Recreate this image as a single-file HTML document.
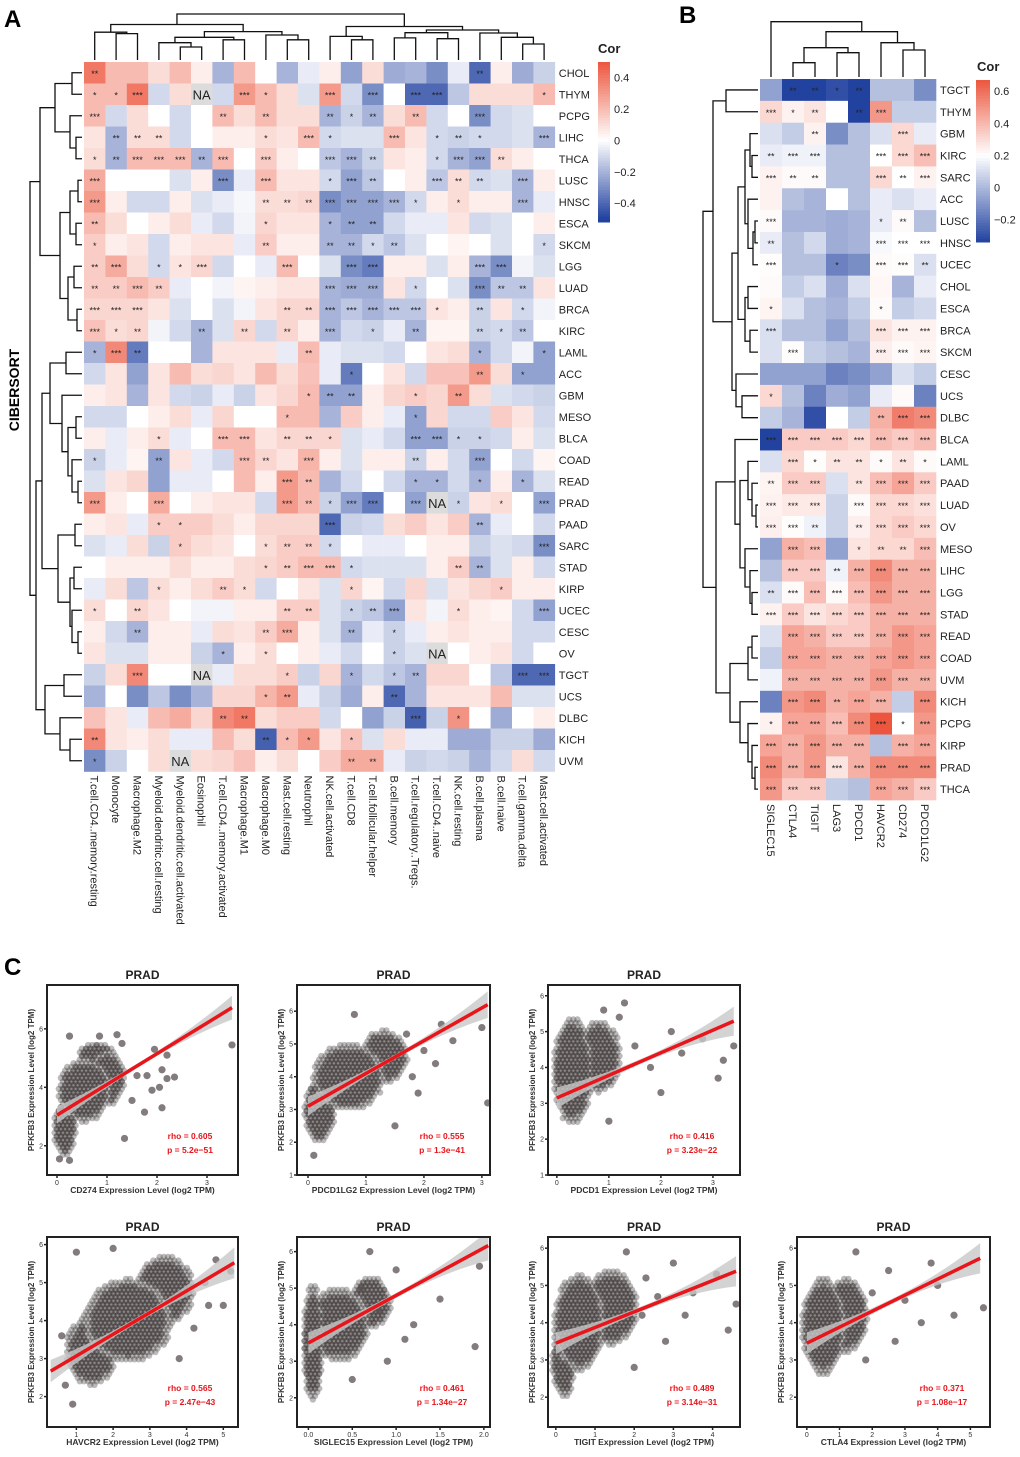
<!DOCTYPE html>
<html><head><meta charset="utf-8"><style>
html,body{margin:0;padding:0;background:#fff}
svg text{font-family:"Liberation Sans",Arial,sans-serif}
</style></head><body>
<svg id="fig" width="1020" height="1452" viewBox="0 0 1020 1452" xmlns="http://www.w3.org/2000/svg">
<rect width="1020" height="1452" fill="#fff"/>
<text x="4" y="27" font-size="24" font-weight="bold">A</text>
<text x="679" y="23" font-size="24" font-weight="bold">B</text>
<text x="4" y="975" font-size="24" font-weight="bold">C</text>
<text transform="translate(19,390) rotate(-90)" text-anchor="middle" font-size="14" font-weight="bold">CIBERSORT</text>
<g id="gA"></g>
<g id="gB"></g>
<g id="gC"></g>
</svg>
<script>
const rowsA=["CHOL","THYM","PCPG","LIHC","THCA","LUSC","HNSC","ESCA","SKCM","LGG","LUAD","BRCA","KIRC","LAML","ACC","GBM","MESO","BLCA","COAD","READ","PRAD","PAAD","SARC","STAD","KIRP","UCEC","CESC","OV","TGCT","UCS","DLBC","KICH","UVM"];
const colsA=["T.cell.CD4..memory.resting","Monocyte","Macrophage.M2","Myeloid.dendritic.cell.resting","Myeloid.dendritic.cell.activated","Eosinophil","T.cell.CD4..memory.activated","Macrophage.M1","Macrophage.M0","Mast.cell.resting","Neutrophil","NK.cell.activated","T.cell.CD8","T.cell.follicular.helper","B.cell.memory","T.cell.regulatory..Tregs.","T.cell.CD4..naive","NK.cell.resting","B.cell.plasma","B.cell.naive","T.cell.gamma.delta","Mast.cell.activated"];
const valsA=[
[.4,.2,.2,.1,.2,.05,-.2,.2,0,-.2,-.05,.05,-.25,.1,-.22,-.2,-.3,-.05,-.4,.05,-.22,-.12],
[.2,.2,.4,-.1,.1,null,-.1,.3,.2,.1,-.08,.3,-.1,-.3,0,-.4,-.4,-.15,.1,.1,.1,.2],
[.2,-.1,.1,0,-.1,0,.2,.1,.2,.1,.1,-.2,-.12,-.2,.1,.2,-.1,0,-.3,-.1,-.08,0],
[.08,-.2,.1,.1,-.1,0,.05,.05,.1,.08,.2,-.1,-.08,-.08,.2,.08,-.1,-.12,-.1,-.1,-.08,-.2],
[.1,-.2,.2,.2,.2,-.2,.2,0,.15,.05,0,-.15,-.2,-.12,.08,.05,-.1,-.2,-.25,.1,.05,0],
[.25,0,0,0,-.08,.05,-.3,-.05,.2,.08,.08,-.1,-.25,-.15,0,.05,-.15,.1,-.1,-.08,-.2,.05],
[.3,.05,-.1,-.1,.05,-.08,-.05,-.02,.1,.1,.12,-.3,-.25,-.25,-.2,-.1,.05,.1,.05,.05,-.2,-.05],
[.2,.1,0,.05,.1,-.05,-.1,-.03,.12,.08,.08,-.2,-.25,-.25,-.1,-.05,-.05,.08,-.1,-.08,0,.05],
[.15,.05,.08,-.1,.05,.08,.08,-.05,.15,.05,.05,-.2,-.2,-.1,-.15,-.08,0,.03,0,-.08,0,-.1],
[.15,.25,.1,-.1,.08,.12,-.1,0,-.05,.2,0,-.08,-.3,-.35,.05,.05,-.08,.05,-.2,-.3,-.03,-.08],
[.15,.15,.2,.15,-.05,0,-.03,.03,.05,.08,.08,-.2,-.22,-.22,.08,-.1,0,-.08,-.3,-.15,-.15,.08],
[.12,.12,.12,.08,-.08,0,-.08,-.03,.08,.12,.12,-.2,-.15,-.2,-.15,-.15,.08,.05,-.12,.08,-.1,-.03],
[.18,.1,.12,-.03,-.1,-.2,-.08,.12,-.1,.12,.05,-.2,-.1,-.12,-.05,-.2,.03,.03,-.12,-.1,-.15,0],
[-.2,.35,-.35,0,0,-.2,.08,.08,.08,-.05,.2,-.05,-.08,-.08,-.1,0,.08,.1,-.2,-.1,-.03,-.25],
[-.1,.08,-.25,.08,.2,.1,.12,.08,.2,.1,.18,-.05,-.35,0,.08,-.1,.18,.18,.3,.1,-.25,-.25],
[.05,.08,-.2,.08,-.1,-.12,-.05,-.12,.08,.12,.2,-.25,-.25,.05,.12,.15,.12,.3,.1,-.08,-.1,-.12],
[-.1,-.1,0,.05,.1,-.05,.12,0,0,.2,.2,-.2,.15,.05,-.05,-.25,.12,-.1,-.1,.15,.08,-.1],
[.05,-.05,.05,.1,-.05,0,.2,.2,.08,.12,.12,.12,-.08,-.05,-.1,-.25,-.25,-.12,-.12,-.1,.05,-.08],
[-.12,-.05,.03,-.25,.08,-.05,-.1,.2,.12,.08,.22,.05,-.08,.05,.05,-.12,.05,-.1,-.25,0,-.1,.03],
[-.08,.08,.12,-.25,-.05,-.05,0,.2,.05,.3,.2,-.2,-.1,0,-.1,-.2,-.2,-.1,-.2,.05,-.2,-.08],
[.3,.05,0,.25,0,.05,.08,.08,-.1,.3,.2,-.12,-.25,-.35,0,-.25,null,-.12,.08,.1,0,-.25],
[.05,.08,-.05,.15,.15,.15,.1,.05,.12,.12,.12,-.4,-.12,-.1,.1,.15,.08,.15,-.2,-.05,0,-.1],
[-.08,-.05,.1,-.12,.15,.1,.08,0,.1,.15,.15,-.1,0,-.05,-.05,0,.05,.05,-.12,-.08,-.1,-.3],
[0,.05,.05,.05,.1,.05,.05,.1,.12,.15,.2,.2,-.1,-.08,-.08,-.08,.05,.15,-.2,-.08,.05,-.1],
[-.05,.1,-.15,.1,.05,.1,.15,.1,-.1,0,.08,-.08,.12,.03,-.1,.12,-.08,.08,.12,.15,.05,.05],
[.1,0,.12,.08,0,-.03,-.03,.05,.05,.15,.15,-.08,-.12,-.15,-.25,.08,-.03,.1,.05,.03,-.1,-.25],
[.05,-.1,-.2,.05,.05,-.05,.1,.08,.15,.25,.05,-.08,-.2,-.05,-.12,-.05,.05,.08,.05,.05,-.1,-.1],
[.08,-.08,-.08,.05,.05,-.12,-.2,.05,.1,0,.05,-.05,-.1,0,-.12,-.08,null,0,.05,.08,-.1,0],
[-.12,.1,.35,0,0,null,-.05,.1,.1,.15,-.12,.12,-.2,-.1,-.15,-.2,.12,.12,0,-.15,-.4,-.4],
[-.2,0,-.3,-.15,-.3,-.2,.12,.12,.22,.3,-.05,-.12,-.22,.05,-.4,-.2,.08,.08,.08,.2,-.08,-.08],
[.18,.08,-.05,.2,.25,.12,.35,.4,.1,.15,.15,-.1,0,-.25,-.12,-.42,-.12,.32,0,-.22,0,.05],
[.35,.08,.05,.1,-.05,-.05,.2,.1,-.42,.2,.3,.08,.18,-.08,.1,-.05,-.05,-.22,-.22,-.12,-.12,-.22],
[-.3,-.12,0,.1,null,.1,.12,.18,.05,.1,0,.15,.25,.25,-.05,-.12,-.1,-.12,-.2,-.1,.1,-.1]];
const starsA=[
[2,0,0,0,0,0,0,0,0,0,0,0,0,0,0,0,0,0,2,0,0,0],
[1,1,3,0,0,0,0,3,1,0,0,3,0,3,0,3,3,0,0,0,0,1],
[3,0,0,0,0,0,2,0,2,0,0,2,1,2,0,2,0,0,3,0,0,0],
[0,2,2,2,0,0,0,0,1,0,3,1,0,0,3,0,1,2,1,0,0,3],
[1,2,3,3,3,2,3,0,3,0,0,3,3,2,0,0,1,3,3,2,0,0],
[3,0,0,0,0,0,3,0,3,0,0,1,3,2,0,0,3,2,2,0,3,0],
[3,0,0,0,0,0,0,0,2,2,2,3,3,3,3,1,0,1,0,0,3,0],
[2,0,0,0,0,0,0,0,1,0,0,1,2,2,0,0,0,0,0,0,0,0],
[1,0,0,0,0,0,0,0,2,0,0,2,2,1,2,0,0,0,0,0,0,1],
[2,3,0,1,1,3,0,0,0,3,0,0,3,3,0,0,0,0,3,3,0,0],
[2,2,3,2,0,0,0,0,0,0,0,3,3,3,0,1,0,0,3,2,2,0],
[3,3,3,0,0,0,0,0,0,2,2,3,3,3,3,3,1,0,2,0,1,0],
[3,1,2,0,0,2,0,2,0,2,0,3,0,1,0,2,0,0,2,1,2,0],
[1,3,2,0,0,0,0,0,0,0,2,0,0,0,0,0,0,0,1,0,0,1],
[0,0,0,0,0,0,0,0,0,0,0,0,1,0,0,0,0,0,2,0,1,0],
[0,0,0,0,0,0,0,0,0,0,1,2,2,0,0,1,0,2,0,0,0,0],
[0,0,0,0,0,0,0,0,0,1,0,0,0,0,0,1,0,0,0,0,0,0],
[0,0,0,1,0,0,3,3,0,2,2,1,0,0,0,3,3,1,1,0,0,0],
[1,0,0,2,0,0,0,3,2,0,3,0,0,0,0,2,0,0,3,0,0,0],
[0,0,0,0,0,0,0,0,0,3,2,0,0,0,0,1,1,0,1,0,1,0],
[3,0,0,3,0,0,0,0,0,3,2,1,3,3,0,3,0,1,0,1,0,3],
[0,0,0,1,1,0,0,0,0,0,0,3,0,0,0,0,0,0,2,0,0,0],
[0,0,0,0,1,0,0,0,1,2,2,1,0,0,0,0,0,0,0,0,0,3],
[0,0,0,0,0,0,0,0,1,2,3,3,1,0,0,0,0,2,2,0,0,0],
[0,0,0,1,0,0,2,1,0,0,0,0,1,0,0,0,0,0,0,1,0,0],
[1,0,2,0,0,0,0,0,0,2,2,0,1,2,3,0,0,1,0,0,0,3],
[0,0,2,0,0,0,0,0,2,3,0,0,2,0,1,0,0,0,0,0,0,0],
[0,0,0,0,0,0,1,0,1,0,0,0,0,0,1,0,0,0,0,0,0,0],
[0,0,3,0,0,0,0,0,0,1,0,0,1,0,1,2,0,0,0,0,3,3],
[0,0,0,0,0,0,0,0,1,2,0,0,0,0,2,0,0,0,0,0,0,0],
[0,0,0,0,0,0,2,2,0,0,0,0,0,0,0,3,0,1,0,0,0,0],
[2,0,0,0,0,0,0,0,2,1,1,0,1,0,0,0,0,0,0,0,0,0],
[1,0,0,0,0,0,0,0,0,0,0,0,2,2,0,0,0,0,0,0,0,0]];
const legendTicksA=[0.4,0.2,0,-0.2,-0.4];

const rowsB=["TGCT","THYM","GBM","KIRC","SARC","ACC","LUSC","HNSC","UCEC","CHOL","ESCA","BRCA","SKCM","CESC","UCS","DLBC","BLCA","LAML","PAAD","LUAD","OV","MESO","LIHC","LGG","STAD","READ","COAD","UVM","KICH","PCPG","KIRP","PRAD","THCA"];
const colsB=["SIGLEC15","CTLA4","TIGIT","LAG3","PDCD1","HAVCR2","CD274","PDCD1LG2"];
const valsB=[
[-.15,-.3,-.3,-.28,-.3,-.1,-.1,-.18],[.15,.05,.1,0,-.3,.4,-.08,-.08],[-.05,-.08,.05,-.18,-.1,-.05,.15,-.03],
[-.03,-.02,-.02,-.1,-.1,0,.15,.25],[.05,.02,.02,-.1,-.1,.15,0,.05],[.05,-.1,-.12,0,-.1,-.03,-.05,-.03],
[.02,-.12,-.12,-.13,-.12,-.03,.02,-.1],[-.03,-.1,-.06,-.13,-.12,-.01,0,0],[.01,-.1,-.1,-.2,-.18,.02,.01,-.05],
[.02,-.08,-.05,-.13,-.05,.03,-.12,-.03],[.04,-.05,-.1,-.12,-.08,.02,-.08,-.06],[-.05,-.1,-.1,-.15,-.1,.1,.05,.05],
[-.05,.01,-.08,-.1,-.12,.06,.02,.04],[-.15,-.15,-.15,-.2,-.18,-.15,-.05,-.08],[.15,-.1,-.2,-.13,-.15,-.03,.02,-.2],
[-.08,-.12,-.28,0,-.08,.3,.5,.45],[-.3,.2,.2,.2,.15,.25,.2,.25],[-.05,.15,.01,.1,.1,.02,.1,.02],
[.04,.2,.2,-.05,.1,.25,.35,.2],[.05,.08,.08,-.07,.02,.15,.15,.12],[.06,.01,-.02,-.07,.06,.15,.2,.15],
[-.15,.3,.25,-.15,.1,.15,.15,.25],[-.1,.2,.2,-.02,.3,.45,.3,.3],[-.05,.02,.25,.02,.25,.4,.3,.3],
[.05,.2,.1,.15,.2,.3,.3,.3],[-.05,.35,.3,.2,.2,.3,.4,.35],[-.08,.35,.35,.3,.3,.35,.4,.35],
[-.02,.3,.3,.3,.3,.4,.3,.3],[-.2,.4,.45,.3,.35,.3,-.08,.45],[.05,.35,.35,.25,.45,.65,0,.4],
[.35,.3,.4,.3,.3,-.1,.3,.35],[.45,.3,.4,.1,.3,.45,.45,.45],[.4,.2,.2,-.08,-.1,.35,.3,.2]];
const starsB=[
[0,2,2,1,2,0,0,0],[3,1,2,0,2,3,0,0],[0,0,2,0,0,0,3,0],[2,3,3,0,0,3,3,3],[3,2,2,0,0,3,2,3],[0,0,0,0,0,0,0,0],
[3,0,0,0,0,1,2,0],[2,0,0,0,0,3,3,3],[3,0,0,1,0,3,3,2],[0,0,0,0,0,0,0,0],[1,0,0,0,0,1,0,0],[3,0,0,0,0,3,3,3],
[0,3,0,0,0,3,3,3],[0,0,0,0,0,0,0,0],[1,0,0,0,0,0,0,0],[0,0,0,0,0,2,3,3],[3,3,3,3,3,3,3,3],[0,3,1,2,2,1,2,1],
[2,3,3,0,2,3,3,3],[3,3,3,0,3,3,3,3],[3,3,2,0,2,3,3,3],[0,3,3,0,1,2,2,3],[0,3,3,2,3,3,3,3],[2,3,3,3,3,3,3,3],
[3,3,3,3,3,3,3,3],[0,3,3,3,3,3,3,3],[0,3,3,3,3,3,3,3],[0,3,3,3,3,3,3,3],[0,3,3,2,3,3,0,3],[1,3,3,3,3,3,1,3],
[3,3,3,3,3,0,3,3],[3,3,3,3,3,3,3,3],[3,3,3,0,0,3,3,3]];
const legendTicksB=[0.6,0.4,0.2,0,-0.2];

// scatter data
const plotTitles=["PRAD","PRAD","PRAD","PRAD","PRAD","PRAD","PRAD"];
const plotGenes=["CD274","PDCD1LG2","PDCD1","HAVCR2","SIGLEC15","TIGIT","CTLA4"];
const plotRho=["0.605","0.555","0.416","0.565","0.461","0.489","0.371"];
const plotP=["5.2e\u221251","1.3e\u221241","3.23e\u221222","2.47e\u221243","1.34e\u221227","3.14e\u221231","1.08e\u221217"];
const plotXTicks=[[0,1,2,3],[0,1,2,3],[0,1,2,3],[1,2,3,4,5],[0,0.5,1,1.5,2],[0,1,2,3,4],[0,1,2,3,4,5]];
const plotXTickLabels=[["0","1","2","3"],["0","1","2","3"],["0","1","2","3"],["1","2","3","4","5"],["0.0","0.5","1.0","1.5","2.0"],["0","1","2","3","4"],["0","1","2","3","4","5"]];
const plotYTicks=[[2,4,6],[1,2,3,4,5,6],[1,2,3,4,5,6],[2,3,4,5,6],[2,3,4,5,6],[2,3,4,5,6],[2,3,4,5,6]];
const fitIntercept=[3.05,3.1,3.15,2.5,3.5,3.45,3.45];
const fitSlope=[1.05,1.0,0.63,0.57,1.3,0.42,0.43];
const fitRange=[[0,3.5],[0,3.1],[0,3.4],[0.3,5.3],[0,2.05],[0,4.6],[0,5.3]];
const clouds=[
[[0.55,3.9,0.45,0.95],[0.15,2.6,0.15,0.8],[1.0,4.3,0.3,0.8],[0.8,5.0,0.3,0.4]],
[[0.7,4.0,0.55,0.9],[0.2,3.0,0.2,0.9],[1.3,4.6,0.35,0.7]],
[[0.3,3.9,0.3,1.4],[0.8,4.3,0.35,0.9]],
[[2.4,4.0,1.1,1.0],[1.4,3.2,0.6,0.8],[3.4,4.8,0.7,0.8]],
[[0.05,3.5,0.07,1.5],[0.35,4.0,0.3,0.9],[0.7,4.6,0.2,0.6]],
[[0.6,4.0,0.55,1.2],[1.4,4.4,0.6,0.9],[0.2,3.0,0.2,0.9]],
[[0.5,3.9,0.55,1.2],[1.2,4.2,0.55,0.9]]];
const outliers=[
[[0.25,5.75],[1.2,5.8],[0.85,5.75],[1.3,5.5],[1.5,3.55],[1.75,3.15],[2.1,3.3],[2.1,4.6],[2.2,4.3],[2.35,4.35],[1.95,5.3],[2.2,5.1],[3.5,5.45],[1.9,3.9],[1.35,2.25],[0.25,1.5],[0.05,1.55],[1.8,4.4],[2.05,4.0],[1.6,4.4]],
[[1.7,5.3],[2.0,4.8],[2.2,4.4],[2.5,5.1],[3.0,5.5],[3.1,3.2],[1.9,3.5],[0.1,1.6],[1.5,2.5],[2.3,5.6],[0.8,5.9],[1.8,4.0]],
[[1.2,5.4],[1.5,4.6],[1.8,4.0],[2.0,3.3],[2.4,4.4],[2.8,4.8],[3.1,3.7],[3.4,4.6],[1.0,2.5],[1.3,5.8],[2.2,5.0],[0.9,5.6],[3.2,4.2]],
[[0.7,2.3],[0.9,1.8],[4.5,5.0],[4.8,5.6],[5.2,5.3],[4.2,3.8],[1.0,5.8],[2.0,5.9],[3.8,3.0],[4.6,4.4],[0.6,3.6],[5.0,4.4]],
[[0.6,5.0],[0.8,4.4],[1.0,5.5],[1.2,4.0],[0.9,3.0],[1.5,4.7],[1.9,3.4],[1.95,5.6],[0.7,6.0],[0.5,2.5],[1.1,3.6]],
[[2.3,5.2],[2.6,4.7],[3.0,5.6],[3.5,4.8],[4.1,5.3],[4.4,3.8],[4.6,4.5],[2.8,3.5],[2.0,2.8],[1.8,5.9],[3.3,4.2],[2.2,4.2]],
[[2.0,4.8],[2.5,5.4],[3.0,4.6],[3.5,4.0],[4.0,5.0],[4.5,4.2],[5.4,4.4],[1.8,3.0],[2.7,3.5],[1.5,5.9],[3.8,5.6]]];
const plotXLim=[[-0.2,3.62],[-0.19,3.14],[-0.17,3.52],[0.2,5.4],[-0.13,2.07],[-0.2,4.7],[-0.3,5.6]];
const plotYLim=[[1.0,7.5],[1.0,6.8],[1.0,6.3],[1.2,6.2],[1.2,6.4],[1.2,6.3],[1.2,6.3]];

const NS="http://www.w3.org/2000/svg";
function mk(tag,attrs,parent){const e=document.createElementNS(NS,tag);for(const k in attrs)e.setAttribute(k,attrs[k]);parent.appendChild(e);return e;}
function lerp(a,b,t){return Math.round(a+(b-a)*t);}
function colorDiv(v,pmax,nmax){if(v===null)return"#dcdcdc";
 if(v>=0){const t=Math.min(v/pmax,1);return`rgb(${lerp(255,236,t)},${lerp(255,86,t)},${lerp(255,62,t)})`;}
 const t=Math.min(-v/nmax,1);return`rgb(${lerp(255,34,t)},${lerp(255,66,t)},${lerp(255,160,t)})`;}
const starTxt=["","*","**","***"];

function heatmap(g,rows,cols,vals,stars,x0,y0,cw,ch,pmax,nmax){
 rows.forEach((r,i)=>{cols.forEach((c,j)=>{
  const v=vals[i][j];
  const rc=mk("rect",{x:x0+j*cw,y:y0+i*ch,width:cw+0.3,height:ch+0.3,fill:colorDiv(v,pmax,nmax)},g);
  
  
  if(v===null){const t=mk("text",{x:x0+j*cw+cw/2,y:y0+i*ch+ch/2+5,"text-anchor":"middle","font-size":13,fill:"#222"},g);t.textContent="NA";
   }
  else if(stars[i][j]){const t=mk("text",{x:x0+j*cw+cw/2,y:y0+i*ch+ch/2+4,"text-anchor":"middle","font-size":9,fill:"#222"},g);t.textContent=starTxt[stars[i][j]];
   }
 });
  const t=mk("text",{x:x0+cols.length*cw+4,y:y0+i*ch+ch/2+4,"font-size":11,fill:"#222"},g);t.textContent=r;
  
 });
 cols.forEach((c,j)=>{const x=x0+j*cw+cw/2-4,y=y0+rows.length*ch+4;
  const t=mk("text",{transform:`translate(${x},${y}) rotate(90)`,"font-size":11,fill:"#222"},g);t.textContent=c;
  });
}
function legend(g,x,y,w,h,vmax,vmin,ticks,pmax,nmax,mid){
 const t0=mk("text",{x:x+w/2-6,y:y-9,"font-size":13,"font-weight":"bold",fill:"#222"},g);t0.textContent="Cor";
 
 const n=60;for(let k=0;k<n;k++){const v=vmax-(vmax-vmin)*(k+0.5)/n;
  mk("rect",{x:x,y:y+k*h/n,width:w,height:h/n+0.5,fill:colorDiv(v-mid,pmax,nmax)},g);}
 ticks.forEach(tv=>{const yy=y+(vmax-tv)/(vmax-vmin)*h;
  const t=mk("text",{x:x+w+4,y:yy+4,"font-size":11,fill:"#222"},g);t.textContent=tv===0?"0":(tv<0?"\u2212"+(-tv):tv);
  });
}
function tree(g,node,posOf,leafH,horiz){
 if(typeof node==="number")return{p:posOf(node),h:leafH};
 const a=tree(g,node[0],posOf,leafH,horiz),b=tree(g,node[1],posOf,leafH,horiz),h=node[2];
 const d=horiz?`M${a.h},${a.p}H${h}V${b.p}H${b.h}`:`M${a.p},${a.h}V${h}H${b.p}V${b.h}`;
 mk("path",{d:d,fill:"none",stroke:"#111","stroke-width":1.3},g);
 return{p:(a.p+b.p)/2,h:h};
}
// Panel A
const gA=document.getElementById("gA");
const axA=84,ayA=62,cwA=21.4,chA=21.5;
heatmap(gA,rowsA,colsA,valsA,starsA,axA,ayA,cwA,chA,0.5,0.5);
legend(gA,598,62,12,160,0.5,-0.52,legendTicksA,0.5,0.5,0);
const treeTopA=[[[0,[1,2,33.6],32.2],[[[3,[4,5,47],42.7],[6,7,39.8],37.3],[8,[9,10,39.8],35],31.6],24.5],[[11,[12,13,39.8],36.4],[[[14,15,37.9],[16,17,38.7],32.7],[18,[19,[20,21,44],37.3],33],30],26.5],14];
const tdA=mk("g",{},gA);
tree(tdA,treeTopA,j=>axA+j*cwA+cwA/2,60,false);
const treeLeftA=[[[[0,1,72],[2,[3,4,76],70],55],[[[5,6,78],[7,8,76],70],[[9,10,74],[11,12,77],68],60],40],[[[[13,14,66],[15,[[16,17,76],[18,[19,20,78],72],68],62],50],[[21,22,75],[[23,24,74],[25,[26,27,78],72],70],58],42],[[28,29,64],[30,[31,32,70],60],45],36],30];
const ldA=mk("g",{},gA);
tree(ldA,treeLeftA,i=>ayA+i*chA+chA/2,82,true);

// Panel B
const gB=document.getElementById("gB");
const axB=760,ayB=79,cwB=22,chB=21.85;
heatmap(gB,rowsB,colsB,valsB,starsB,axB,ayB,cwB,chB,0.65,0.3);
legend(gB,976,80,14,162,0.67,-0.34,legendTicksB,0.47,0.54,0.2);
const treeTopB=[0,[[[1,2,62.7],[3,4,52.7],47.7],[5,[6,7,50],42.7],31.7],21.7];
const tdB=mk("g",{},gB);
tree(tdB,treeTopB,j=>axB+j*cwB+cwB/2,77,false);
const treeLeftB=[[[0,1,726],[[[[2,[3,4,752],750],[5,[[6,7,755],8,753],748],745],[[9,10,748],[11,12,750],745],738],[13,[14,15,742],736],732],713],[[16,[[17,[18,[19,20,756],752],748],[21,[22,[23,24,752],750],745],740],735],[[[25,26,752],27,748],[28,[29,[30,[31,32,755],752],748],740],730],716],703];
const ldB=mk("g",{},gB);
tree(ldB,treeLeftB,i=>ayB+i*chB+chB/2,758,true);

// Panel C
const gC=document.getElementById("gC");
const boxX=[[47,238],[297,490],[548,740],[47,238],[297,490],[548,740],[797,990]];
const boxY=[[985,1175],[985,1175],[985,1175],[1237,1427],[1237,1427],[1237,1427],[1237,1427]];
plotGenes.forEach((gene,k)=>{
 const g=mk("g",{},gC);
 
 
 const [bx0,bx1]=boxX[k],[by0,by1]=boxY[k],[xa,xb]=plotXLim[k],[ya,yb]=plotYLim[k];
 const sx=v=>bx0+(v-xa)/(xb-xa)*(bx1-bx0), sy=v=>by1-(v-ya)/(yb-ya)*(by1-by0);
 const clip="clip"+k;const cp=mk("clipPath",{id:clip},g);mk("rect",{x:bx0,y:by0,width:bx1-bx0,height:by1-by0},cp);
 const inner=mk("g",{"clip-path":`url(#${clip})`},g);
 const seen=new Set();
 const step=4.2,stepY=step*0.87;
 clouds[k].forEach(c=>{
  const cx=sx(c[0]),cy=sy(c[1]),rx=Math.abs(sx(c[0]+c[2])-cx)+4,ry=Math.abs(sy(c[1]+c[3])-cy)+4;
  for(let yy=Math.floor((cy-ry)/stepY);yy<=Math.ceil((cy+ry)/stepY);yy++){
   for(let xx=Math.floor((cx-rx)/step)-1;xx<=Math.ceil((cx+rx)/step);xx++){
    const px=xx*step+(yy%2?step/2:0),py=yy*stepY;
    const d=((px-cx)/rx)**2+((py-cy)/ry)**2;if(d>1)continue;
    const key=xx+"_"+yy;if(seen.has(key))continue;seen.add(key);
    const dot=mk("circle",{cx:px,cy:py,r:3.2,fill:"#3f3838","fill-opacity":d>0.7?0.35:0.6},inner);
    
    
   }}
 });
 outliers[k].forEach(p=>{const c=mk("circle",{cx:sx(p[0]),cy:sy(p[1]),r:3.6,fill:"#5a5050","fill-opacity":0.75},inner);
  });
 const a=fitIntercept[k],b=fitSlope[k],[r0,r1]=fitRange[k];
 const up=[],dn=[];for(let s=0;s<=20;s++){const x=r0+(r1-r0)*s/20,u=(s/20-0.5)*2,w=0.07+0.28*u*u*(u>0?1.2:0.8);
  up.push(`${sx(x)},${sy(a+b*x+w)}`);dn.unshift(`${sx(x)},${sy(a+b*x-w)}`);}
 const band=mk("polygon",{points:up.concat(dn).join(" "),fill:"#c8c8c8","fill-opacity":0.8},inner);
 
 const ln=mk("line",{x1:sx(r0),y1:sy(a+b*r0),x2:sx(r1),y2:sy(a+b*r1),stroke:"#e8151b","stroke-width":3.5},inner);
 
 const bx=mk("rect",{x:bx0,y:by0,width:bx1-bx0,height:by1-by0,fill:"none",stroke:"#222","stroke-width":2},g);
 
 plotXTicks[k].forEach((tv,i)=>{mk("line",{x1:sx(tv),x2:sx(tv),y1:by1,y2:by1+3,stroke:"#222","stroke-width":1.5},g);
  const t=mk("text",{x:sx(tv),y:by1+10,"text-anchor":"middle","font-size":7,fill:"#333"},g);t.textContent=plotXTickLabels[k][i];
  });
 plotYTicks[k].forEach(tv=>{mk("line",{x1:bx0-3,x2:bx0,y1:sy(tv),y2:sy(tv),stroke:"#222","stroke-width":1.5},g);
  const t=mk("text",{x:bx0-4,y:sy(tv)+2.5,"text-anchor":"end","font-size":7,fill:"#333"},g);t.textContent=tv;
  });
 const tt=mk("text",{x:(bx0+bx1)/2,y:by0-6,"text-anchor":"middle","font-size":12,"font-weight":"bold",fill:"#222"},g);tt.textContent=plotTitles[k];
 
 const xl=mk("text",{x:(bx0+bx1)/2,y:by1+18,"text-anchor":"middle","font-size":8.5,"font-weight":"bold",fill:"#333"},g);xl.textContent=gene+" Expression Level (log2 TPM)";
 
 const yl=mk("text",{transform:`translate(${bx0-13},${(by0+by1)/2}) rotate(-90)`,"text-anchor":"middle","font-size":8,"font-weight":"bold",fill:"#333"},g);yl.textContent="PFKFB3 Expression Level (log2 TPM)";
 
 const r1t=mk("text",{x:bx1-48,y:by1-36,"text-anchor":"middle","font-size":8.5,"font-weight":"bold",fill:"#e8151b"},g);r1t.textContent="rho = "+plotRho[k];
 
 const r2t=mk("text",{x:bx1-48,y:by1-22,"text-anchor":"middle","font-size":8.5,"font-weight":"bold",fill:"#e8151b"},g);r2t.textContent="p = "+plotP[k];
 
});
</script>
</body></html>
